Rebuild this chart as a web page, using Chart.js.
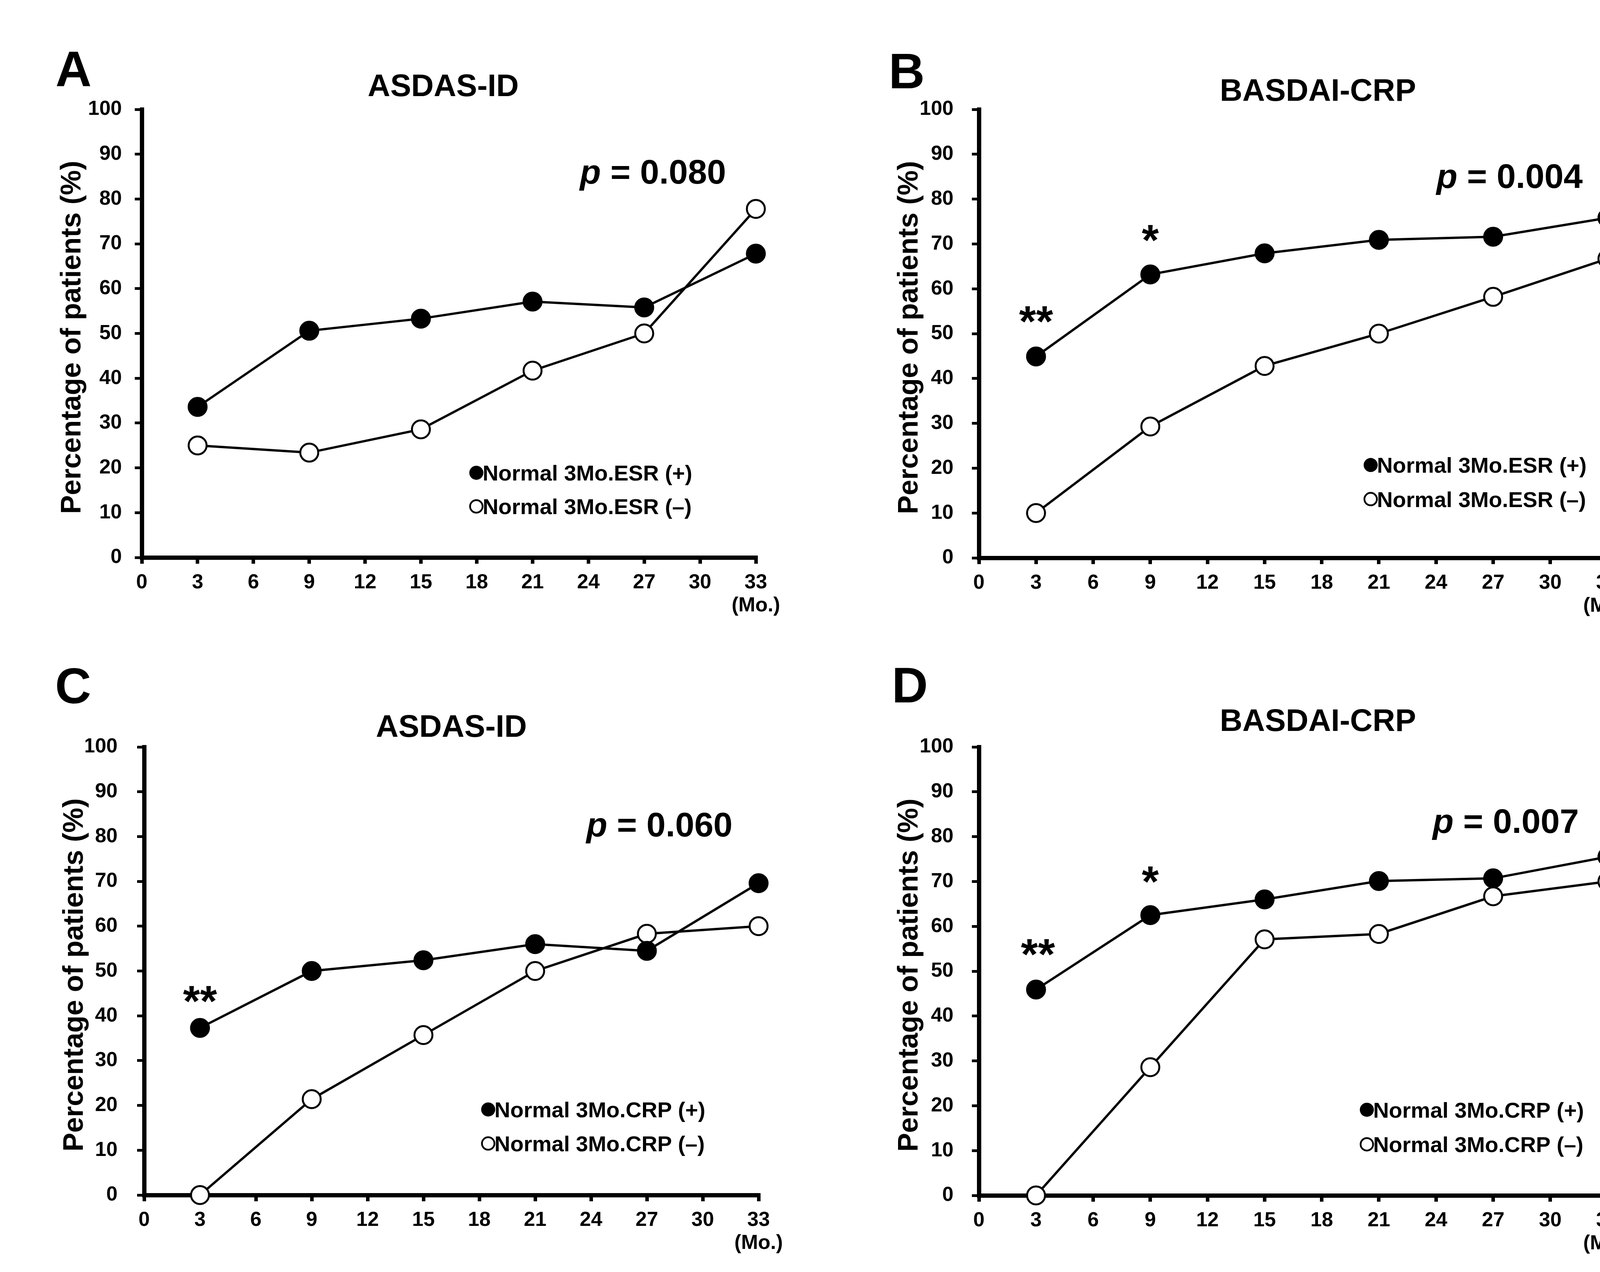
<!DOCTYPE html>
<html><head><meta charset="utf-8">
<script src="https://cdn.jsdelivr.net/npm/chart.js@4.4.1/dist/chart.umd.min.js"></script>
<style>
html,body{margin:0;padding:0;background:#fff;width:4240px;height:3256px;overflow:hidden}
canvas{position:absolute}
</style></head><body>
<canvas id="cA" width="2120" height="1628" style="left:0px;top:0px"></canvas>
<canvas id="cB" width="2120" height="1628" style="left:2120px;top:0px"></canvas>
<canvas id="cC" width="2120" height="1628" style="left:0px;top:1628px"></canvas>
<canvas id="cD" width="2120" height="1628" style="left:2120px;top:1628px"></canvas>
<script>
// ---- data ----
const months = [3, 9, 15, 21, 27, 33];
const xTickValues = [0, 3, 6, 9, 12, 15, 18, 21, 24, 27, 30, 33];
const yTickValues = [0, 10, 20, 30, 40, 50, 60, 70, 80, 90, 100];

const aEsrPos = [33.6, 50.6, 53.3, 57.1, 55.8, 67.8];
const aEsrNeg = [25.0, 23.4, 28.6, 41.7, 50.0, 77.8];
const bEsrPos = [44.9, 63.2, 67.9, 70.9, 71.6, 75.8];
const bEsrNeg = [10.0, 29.3, 42.8, 50.0, 58.2, 66.7];
const cCrpPos = [37.3, 50.0, 52.4, 56.0, 54.5, 69.6];
const cCrpNeg = [0.0, 21.4, 35.7, 50.0, 58.3, 60.0];
const dCrpPos = [45.9, 62.5, 66.0, 70.1, 70.7, 75.5];
const dCrpNeg = [0.0, 28.6, 57.1, 58.3, 66.7, 70.0];

const titles = ['ASDAS-ID', 'BASDAI-CRP', 'ASDAS-ID', 'BASDAI-CRP'];
const letters = ['A', 'B', 'C', 'D'];
const pValues = ['0.080', '0.004', '0.060', '0.007'];
const legendEsr = ['Normal 3Mo.ESR (+)', 'Normal 3Mo.ESR (\u2013)'];
const legendCrp = ['Normal 3Mo.CRP (+)', 'Normal 3Mo.CRP (\u2013)'];
const yTitle = 'Percentage of patients (%)';
const xUnit = '(Mo.)';
// significance marks: [month, label]
const starsA = [];
const starsB = [[3, '**'], [9, '*']];
const starsC = [[3, '**']];
const starsD = [[3, '**'], [9, '*']];

const FONT = '"Liberation Sans", Arial, Helvetica, sans-serif';

const panels = [
  {id:'cA', i:0, pos:aEsrPos, neg:aEsrNeg, legend:legendEsr, stars:starsA,
   area:{l:363,t:280,r:1935,b:1427}, yPad:33, letterOff:[221,59],
   titleAt:[16.2,103.0], pAt:[31.4,83.4], legAt:[17.6,18.9,11.4], starY:{}, starX:{}},
  {id:'cB', i:1, pos:bEsrPos, neg:bEsrNeg, legend:legendEsr, stars:starsB,
   area:{l:386,t:280,r:1995,b:1428}, yPad:47, letterOff:[231,54],
   titleAt:[17.8,101.9], pAt:[31.7,82.5], legAt:[20.2,20.7,13.1], starY:{3:53.4,9:71.5}, starX:{3:3.0,9:9.0}},
  {id:'cC', i:2, pos:cCrpPos, neg:cCrpNeg, legend:legendCrp, stars:starsC,
   area:{l:369,t:284,r:1942,b:1431}, yPad:50, letterOff:[228,112],
   titleAt:[16.5,102.3], pAt:[31.6,80.0], legAt:[18.1,19.1,11.5], starY:{3:43.9}, starX:{3:3.0}},
  {id:'cD', i:3, pos:dCrpPos, neg:dCrpNeg, legend:legendCrp, stars:starsD,
   area:{l:386,t:284,r:1995,b:1432}, yPad:47, letterOff:[223,114],
   titleAt:[17.8,103.6], pAt:[31.5,80.8], legAt:[20.0,19.1,11.4], starY:{3:54.4,9:70.6}, starX:{3:3.1,9:9.0}}
];

const Y_W = 150, X_H = 150, CW = 2120, CH = 1628;

function annotPlugin(p) {
  return {
    id: 'annot' + p.i,
    afterDraw(chart) {
      const ctx = chart.ctx, xs = chart.scales.x, ys = chart.scales.y, ca = chart.chartArea;
      ctx.save();
      ctx.fillStyle = '#000'; ctx.strokeStyle = '#000';
      ctx.textBaseline = 'alphabetic';
      // panel letter
      ctx.font = 'bold 128px ' + FONT; ctx.textAlign = 'left';
      ctx.fillText(letters[p.i], ca.left - p.letterOff[0], ca.top - p.letterOff[1]);
      // title
      ctx.font = 'bold 80px ' + FONT; ctx.textAlign = 'center';
      ctx.fillText(titles[p.i], xs.getPixelForValue(p.titleAt[0]), ys.getPixelForValue(p.titleAt[1]));
      // y axis title
      ctx.save();
      ctx.translate(ca.left - 157, (ca.top + ca.bottom) / 2 + 10);
      ctx.rotate(-Math.PI / 2);
      ctx.font = 'bold 72px ' + FONT; ctx.textAlign = 'center';
      ctx.fillText(yTitle, 0, 0);
      ctx.restore();
      // p value
      const px = xs.getPixelForValue(p.pAt[0]), py = ys.getPixelForValue(p.pAt[1]);
      ctx.textAlign = 'left';
      ctx.font = 'italic bold 88px ' + FONT;
      const wp = ctx.measureText('p').width;
      ctx.font = 'bold 88px ' + FONT;
      const rest = ' = ' + pValues[p.i];
      const wr = ctx.measureText(rest).width;
      const x0 = px - wp - wr;
      ctx.font = 'italic bold 88px ' + FONT;
      ctx.fillText('p', x0, py);
      ctx.font = 'bold 88px ' + FONT;
      ctx.fillText(rest, x0 + wp, py);
      // significance stars
      ctx.font = 'bold 112px ' + FONT; ctx.textAlign = 'center';
      p.stars.forEach(([m, s]) => {
        const sx = xs.getPixelForValue(p.starX[m]);
        const sy = ys.getPixelForValue(p.starY[m]);
        ctx.fillText(s, sx, sy + 0.41 * 112);
      });
      // legend
      const lx = xs.getPixelForValue(p.legAt[0]);
      const rows = [ys.getPixelForValue(p.legAt[1]), ys.getPixelForValue(p.legAt[2])];
      ctx.font = 'bold 56px ' + FONT; ctx.textAlign = 'left';
      rows.forEach((ry, k) => {
        ctx.beginPath();
        if (k === 0) {
          ctx.arc(lx + 18, ry, 18, 0, Math.PI * 2);
          ctx.fillStyle = '#000'; ctx.fill();
        } else {
          ctx.arc(lx + 18, ry, 16, 0, Math.PI * 2);
          ctx.fillStyle = '#fff'; ctx.fill();
          ctx.lineWidth = 4.5; ctx.stroke();
        }
        ctx.fillStyle = '#000';
        ctx.fillText(p.legend[k], lx + 34, ry + 20);
      });
      ctx.restore();
    }
  };
}

panels.forEach(p => {
  const a = p.area;
  new Chart(document.getElementById(p.id), {
    type: 'line',
    data: {
      datasets: [
        { label: p.legend[0], data: months.map((m, k) => ({x: m, y: p.pos[k]})),
          borderColor: '#000', borderWidth: 6, backgroundColor: '#000',
          pointRadius: 24, pointHoverRadius: 24, pointBorderWidth: 3,
          pointBackgroundColor: '#000', pointBorderColor: '#000', tension: 0, clip: false },
        { label: p.legend[1], data: months.map((m, k) => ({x: m, y: p.neg[k]})),
          borderColor: '#000', borderWidth: 6, backgroundColor: '#fff',
          pointRadius: 23, pointHoverRadius: 23, pointBorderWidth: 5,
          pointBackgroundColor: '#fff', pointBorderColor: '#000', tension: 0, clip: false }
      ]
    },
    options: {
      responsive: false, animation: false, devicePixelRatio: 1,
      events: [],
      layout: { autoPadding: false,
        padding: { left: a.l - Y_W, top: a.t, right: CW - a.r, bottom: CH - a.b - X_H } },
      plugins: { legend: { display: false }, tooltip: { enabled: false }, title: { display: false } },
      scales: {
        x: {
          type: 'linear', min: 0, max: 33,
          afterBuildTicks: s => { s.ticks = xTickValues.map(v => ({value: v})); },
          afterFit: s => { s.height = X_H; },
          border: { display: true, color: '#000', width: 11 },
          grid: { drawOnChartArea: false, drawTicks: true, tickLength: 16, tickWidth: 9, lineWidth: 9, color: '#000', tickColor: '#000' },
          ticks: { autoSkip: false, maxRotation: 0, minRotation: 0, padding: 20, color: '#000',
            font: { family: FONT, size: 52, weight: 'bold', lineHeight: 1.12 },
            callback: v => v === 33 ? ['33', xUnit] : String(v) }
        },
        y: {
          type: 'linear', min: 0, max: 100,
          afterBuildTicks: s => { s.ticks = yTickValues.map(v => ({value: v})); },
          afterFit: s => { s.width = Y_W; },
          border: { display: true, color: '#000', width: 11 },
          grid: { drawOnChartArea: false, drawTicks: true, tickLength: 18, tickWidth: 7, lineWidth: 7, color: '#000', tickColor: '#000' },
          ticks: { padding: p.yPad, color: '#000',
            font: { family: FONT, size: 52, weight: 'bold' },
            callback: v => String(v) }
        }
      }
    },
    plugins: [annotPlugin(p)]
  });
});
</script>
</body></html>
